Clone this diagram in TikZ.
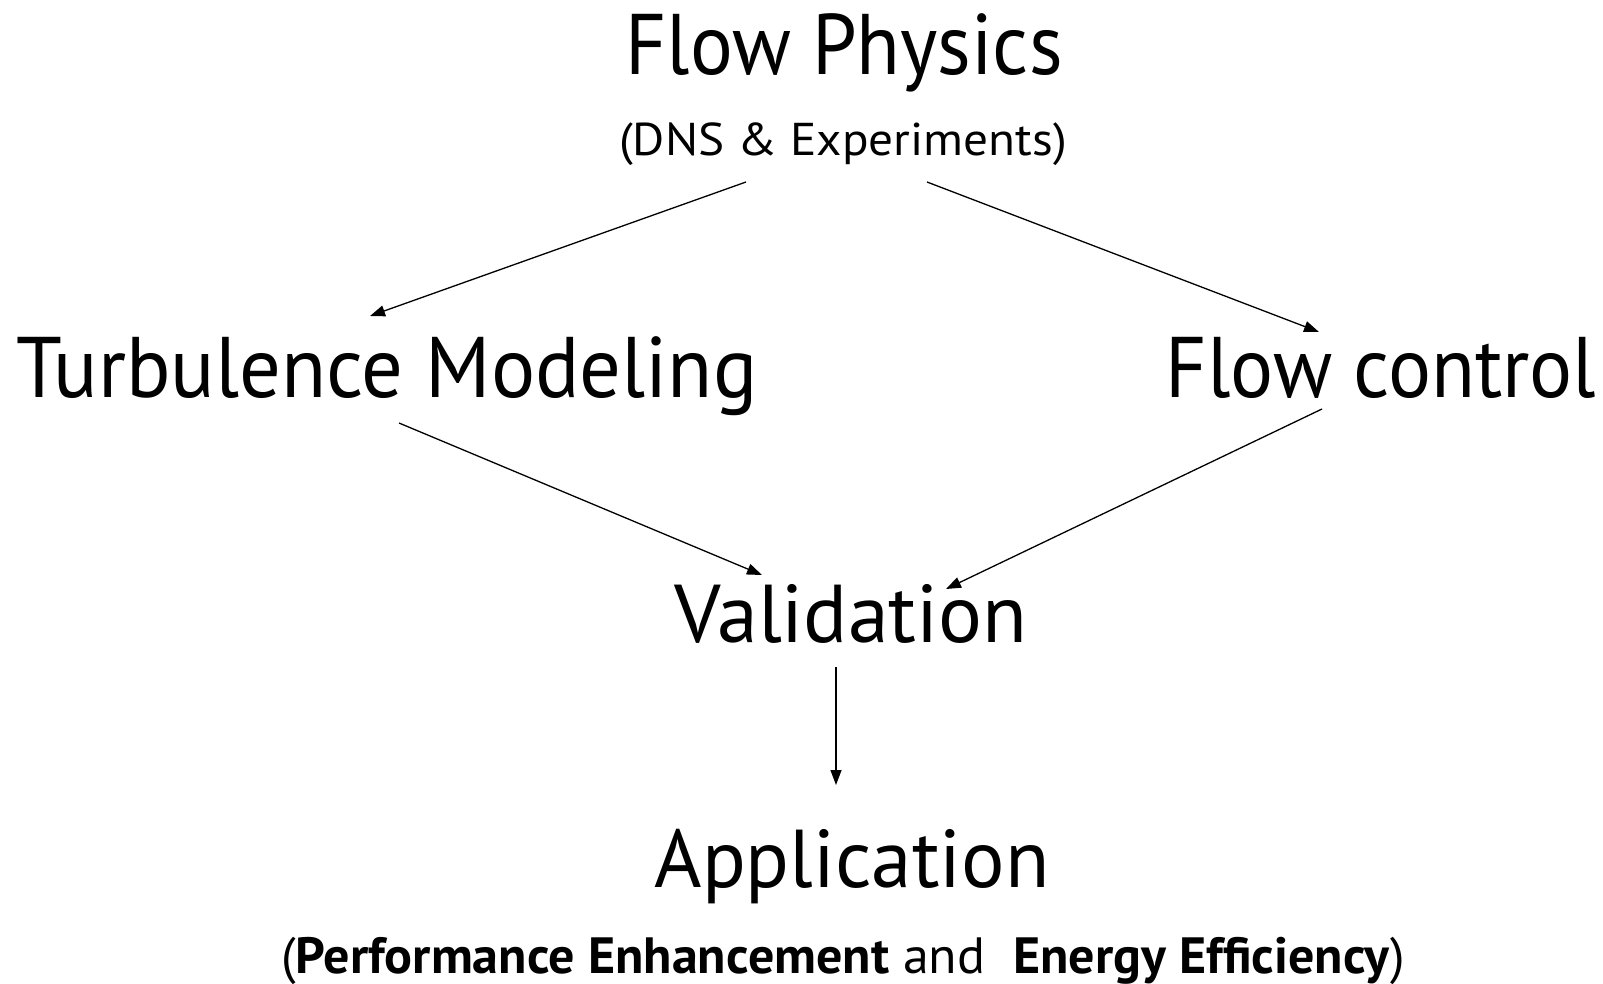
\documentclass[tikz,border=0pt]{standalone}
\usepackage{fontspec}
\usepackage{graphicx}
\setmainfont{PT Sans}
\usetikzlibrary{arrows.meta}
\begin{document}
\begin{tikzpicture}[x=1pt,y=-1pt,
  lbl/.style={anchor=base,inner sep=0pt},
  arr/.style={line width=1.3pt,-{Triangle[length=15pt,width=11pt]}}]
\useasboundingbox (0,0) rectangle (1603,984);
\node[lbl] (fp) at (844,75) {\fontsize{86}{86}\selectfont\scalebox{0.93}[1]{Flow Physics}};
\node[lbl] (dns) at (843,156) {\fontsize{46}{46}\selectfont\scalebox{1.07}[1]{(DNS \& Experiments)}};
\node[lbl] (tm) at (387,397) {\fontsize{86}{86}\selectfont\scalebox{0.96}[1]{Turbulence Modeling}};
\node[lbl] (fc) at (1381,397) {\fontsize{86}{86}\selectfont\scalebox{0.935}[1]{Flow control}};
\node[lbl] (val) at (851,642) {\fontsize{82}{82}\selectfont\scalebox{1.0}[1]{Validation}};
\node[lbl] (app) at (852,887) {\fontsize{82}{82}\selectfont\scalebox{0.99}[1]{Application}};
\node[lbl] (pe) at (843,973) {\fontsize{51}{51}\selectfont\scalebox{1.02}[1]{(\textbf{Performance Enhancement} and \ \textbf{Energy Efficiency})}};
\coordinate (a1s) at (746,182); \coordinate (a1e) at (370,316);
\coordinate (a2s) at (927,182); \coordinate (a2e) at (1319,332);
\coordinate (a3s) at (399,423); \coordinate (a3e) at (762,575);
\coordinate (a4s) at (1322,409); \coordinate (a4e) at (946,589);
\coordinate (a5s) at (836,667); \coordinate (a5e) at (836,785);
\draw[arr] (a1s) -- (a1e);
\draw[arr] (a2s) -- (a2e);
\draw[arr] (a3s) -- (a3e);
\draw[arr] (a4s) -- (a4e);
\draw[arr] (a5s) -- (a5e);
\end{tikzpicture}
\end{document}
